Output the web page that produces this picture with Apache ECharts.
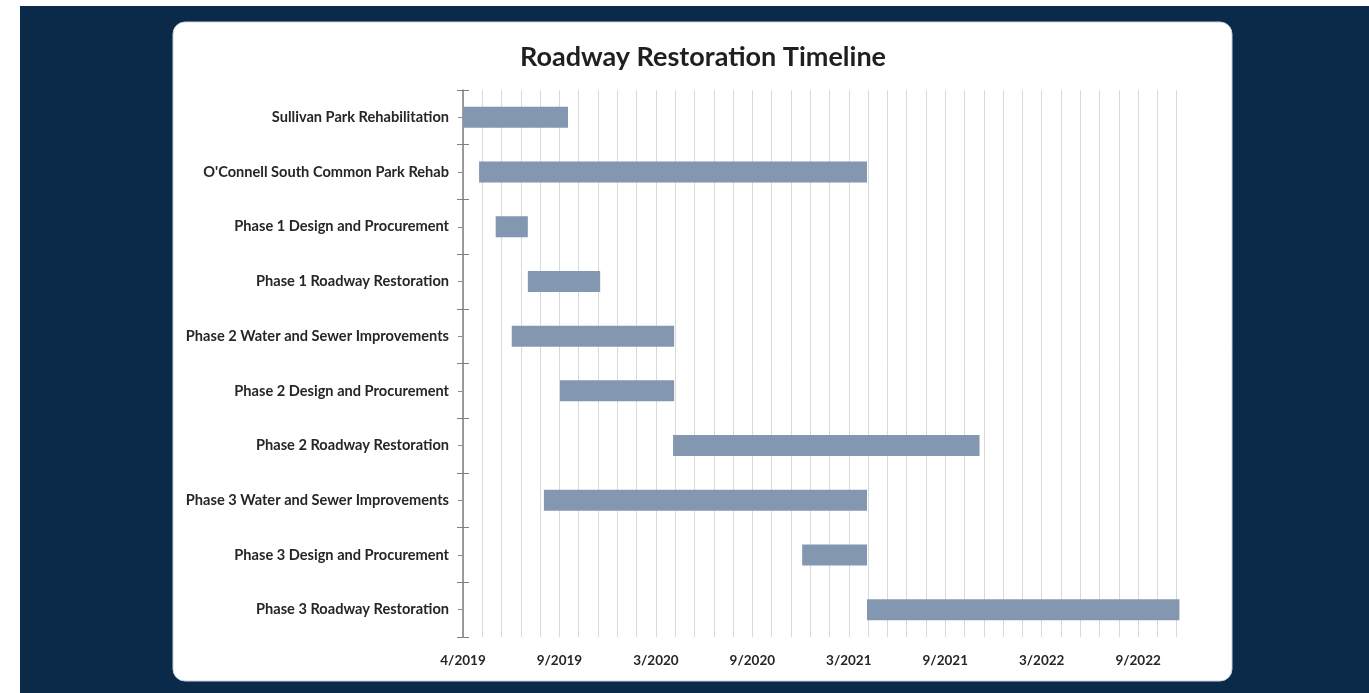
<!DOCTYPE html>
<html>
<head>
<meta charset="utf-8">
<title>Roadway Restoration Timeline</title>
<script src="https://cdn.jsdelivr.net/npm/echarts@6/dist/echarts.min.js"></script>
<style>
html, body { margin: 0; padding: 0; background: #ffffff; }
#main { width: 1369px; height: 693px; }
</style>
</head>
<body>
<div id="main"></div>
<script type="text/javascript">
// 时间轴起点（第0天）
var axisStart = '2019-04-01';
var axisEnd = '2022-12-01';

var tasks = [
	'Sullivan Park Rehabilitation',
	"O'Connell South Common Park Rehab",
	'Phase 1 Design and Procurement',
	'Phase 1 Roadway Restoration',
	'Phase 2 Water and Sewer Improvements',
	'Phase 2 Design and Procurement',
	'Phase 2 Roadway Restoration',
	'Phase 3 Water and Sewer Improvements',
	'Phase 3 Design and Procurement',
	'Phase 3 Roadway Restoration'
];
var startDates = [
	'2019-04-01', '2019-05-01', '2019-06-01', '2019-07-31', '2019-07-01',
	'2019-09-29', '2020-04-27', '2019-08-30', '2020-12-24', '2021-04-24'
];
var endDates = [
	'2019-10-14', '2021-04-24', '2019-07-31', '2019-12-13', '2020-04-29',
	'2020-04-29', '2021-11-20', '2021-04-24', '2021-04-24', '2022-11-28'
];
var tickLabels = ['4/2019', '9/2019', '3/2020', '9/2020', '3/2021', '9/2021', '3/2022', '9/2022'];

var majorDays = 180;
var minorDays = 36;

function dayOf(d) {
	return Math.round((Date.parse(d) - Date.parse(axisStart)) / 86400000);
}

var offsets = [];
var durations = [];
for (var i = 0; i < tasks.length; i++) {
	offsets.push(dayOf(startDates[i]));
	durations.push(dayOf(endDates[i]) - dayOf(startDates[i]));
}

var font = 'Lato, "Open Sans", sans-serif';
var myChart = echarts.init(document.getElementById('main'));

var option = {
	animation: false,
	graphic: [
		{ type: 'rect', z: -10, silent: true, shape: { x: 20, y: 6, width: 1349, height: 687 }, style: { fill: '#0b2a4a' } },
		{ type: 'rect', z: -9, silent: true, shape: { x: 173, y: 22, width: 1059, height: 659, r: 12 }, style: { fill: '#ffffff', stroke: '#c9d0da', lineWidth: 1 } },
		{ type: 'text', z: 10, x: 703, y: 57, style: { text: 'Roadway Restoration Timeline', font: 'bold 27px ' + font, fill: '#1f1f1f', align: 'center', verticalAlign: 'middle', textAlign: 'center', textVerticalAlign: 'middle' } }
	],
	grid: { left: 463, right: 188, top: 90, bottom: 56, containLabel: false },
	xAxis: {
		type: 'value',
		min: 0,
		max: dayOf(axisEnd),
		interval: minorDays,
		axisLine: { show: false },
		axisTick: { show: false },
		splitLine: { show: true, showMaxLine: false, lineStyle: { color: '#d9d9d9', width: 1 } },
		axisLabel: {
			margin: 17,
			fontFamily: font,
			fontSize: 13.5,
			fontWeight: 'bold',
			color: '#262626',
			formatter: function(v) {
				if (v % majorDays === 0 && tickLabels[v / majorDays]) {
					return tickLabels[v / majorDays];
				}
				return '';
			}
		}
	},
	yAxis: [{
		type: 'category',
		position: 'left',
		inverse: true,
		data: tasks,
		axisLine: { show: true, lineStyle: { color: '#7f7f7f', width: 1.5 } },
		axisTick: { show: true, length: 6, lineStyle: { color: '#7f7f7f' } },
		axisLabel: { margin: 14, fontFamily: font, fontSize: 14.6, fontWeight: 'bold', color: '#262626' }
	}, {
		type: 'category',
		position: 'left',
		inverse: true,
		data: tasks,
		axisLine: { show: false },
		axisTick: { show: true, inside: true, length: 6, lineStyle: { color: '#7f7f7f' } },
		axisLabel: { show: false }
	}, {
		type: 'category',
		position: 'left',
		inverse: true,
		data: tasks,
		axisLine: { show: false },
		axisTick: { show: true, alignWithLabel: true, length: 5, lineStyle: { color: '#8c8c8c' } },
		axisLabel: { show: false }
	}],
	series: [{
		name: 'start',
		type: 'bar',
		stack: 'gantt',
		barWidth: 21,
		itemStyle: { color: 'transparent' },
		silent: true,
		data: offsets
	}, {
		name: 'duration',
		type: 'bar',
		stack: 'gantt',
		barWidth: 21,
		itemStyle: { color: '#8497b0' },
		data: durations
	}]
};

myChart.setOption(option);
</script>
</body>
</html>
